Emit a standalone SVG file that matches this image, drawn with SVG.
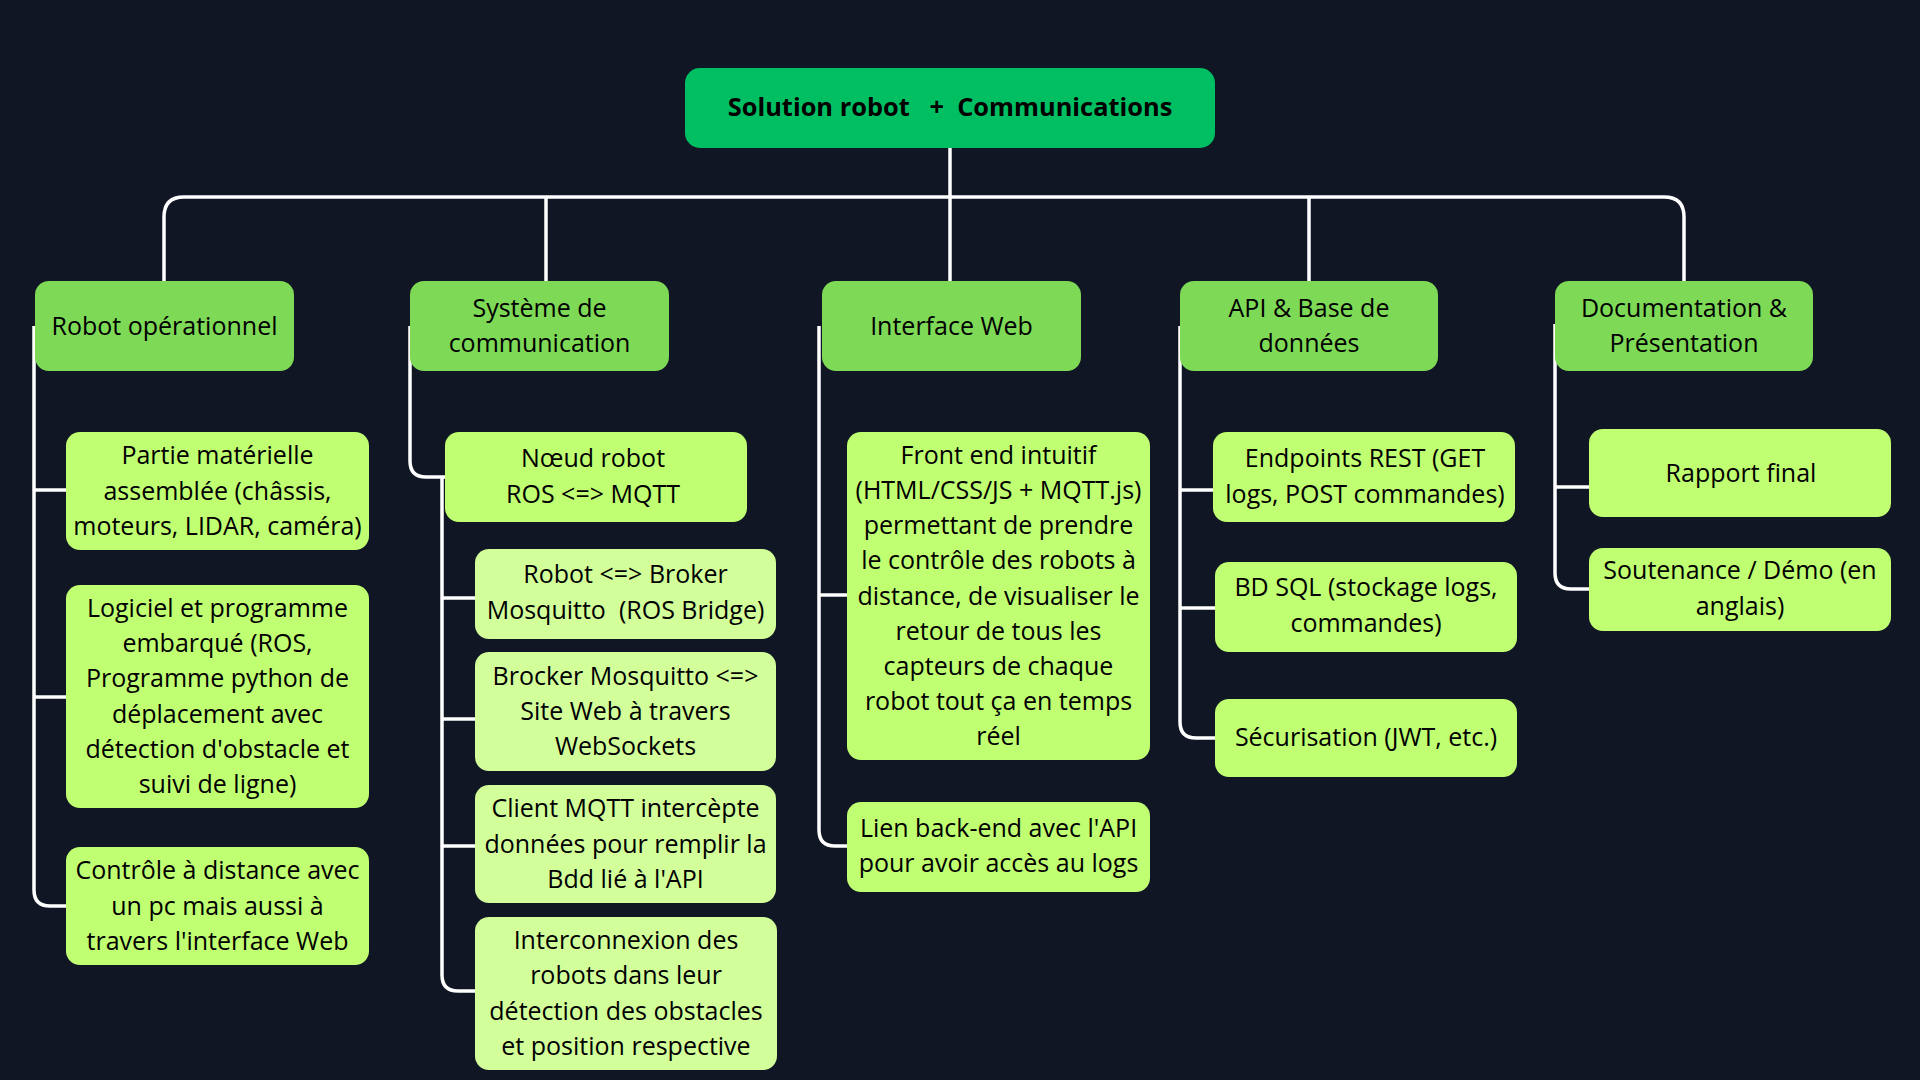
<svg xmlns="http://www.w3.org/2000/svg" width="1920" height="1080" viewBox="0 0 1920 1080">
<style>
.bg{fill:#101624}
.root{fill:#00BF63}
.l1{fill:#7ED957}
.l2{fill:#C1FF72}
.l3{fill:#D3FF9B}
text{font-family:"Open Sans","Noto Sans","DejaVu Sans",sans-serif;font-size:25px;fill:#000;text-anchor:middle;white-space:pre}
.rt{font-weight:700;font-size:25.4px}
.c path{fill:none;stroke:#fff;stroke-width:3.5;stroke-linecap:butt}
</style>
<rect class="bg" x="0" y="0" width="1920" height="1080"/>
<g class="c" id="connectors">
<path d="M950,148 V281"/>
<path d="M164,281 V217 Q164,197 184,197 H1664 Q1684,197 1684,217 V281"/>
<path d="M546,197 V281"/>
<path d="M1309,197 V281"/>
<path d="M34,326 V890 Q34,906 50,906 H66"/>
<path d="M34,490 H66"/>
<path d="M34,697 H66"/>
<path d="M410,326 V461 Q410,477 426,477 H445"/>
<path d="M442,477 V975 Q442,991 458,991 H475"/>
<path d="M442,598 H475"/>
<path d="M442,719 H475"/>
<path d="M442,846 H475"/>
<path d="M819,326 V830 Q819,846 835,846 H847"/>
<path d="M819,595 H847"/>
<path d="M1180,326 V722 Q1180,738 1196,738 H1215"/>
<path d="M1180,490 H1213"/>
<path d="M1180,608 H1215"/>
<path d="M1555,324 V573 Q1555,589 1571,589 H1589"/>
<path d="M1555,487 H1589"/>
</g>
<g id="root">
<rect class="root" x="685" y="68" width="530" height="80" rx="15"/>
<text class="rt" x="950" y="116">Solution robot   +  Communications</text>
</g>
<g id="n-robot">
<rect class="l1" x="35" y="281" width="259" height="90" rx="14"/>
<text x="164.5" y="334.5">Robot opérationnel</text>
</g>
<g id="n-comm">
<rect class="l1" x="410" y="281" width="259" height="90" rx="14"/>
<text x="539.5" y="316.9">Système de</text>
<text x="539.5" y="352.1">communication</text>
</g>
<g id="n-web">
<rect class="l1" x="822" y="281" width="259" height="90" rx="14"/>
<text x="951.5" y="334.5">Interface Web</text>
</g>
<g id="n-api">
<rect class="l1" x="1180" y="281" width="258" height="90" rx="14"/>
<text x="1309" y="316.9">API &amp; Base de</text>
<text x="1309" y="352.1">données</text>
</g>
<g id="n-doc">
<rect class="l1" x="1555" y="281" width="258" height="90" rx="14"/>
<text x="1684" y="316.9">Documentation &amp;</text>
<text x="1684" y="352.1">Présentation</text>
</g>
<g id="n-partie">
<rect class="l2" x="66" y="432" width="303" height="118" rx="14"/>
<text x="217.5" y="464.3">Partie matérielle</text>
<text x="217.5" y="499.5">assemblée (châssis,</text>
<text x="217.5" y="534.7">moteurs, LIDAR, caméra)</text>
</g>
<g id="n-logiciel">
<rect class="l2" x="66" y="585" width="303" height="223" rx="14"/>
<text x="217.5" y="617">Logiciel et programme</text>
<text x="217.5" y="652.2">embarqué (ROS,</text>
<text x="217.5" y="687.4">Programme python de</text>
<text x="217.5" y="722.6">déplacement avec</text>
<text x="217.5" y="757.8">détection d'obstacle et</text>
<text x="217.5" y="793">suivi de ligne)</text>
</g>
<g id="n-controle">
<rect class="l2" x="66" y="847" width="303" height="118" rx="14"/>
<text x="217.5" y="879.3">Contrôle à distance avec</text>
<text x="217.5" y="914.5">un pc mais aussi à</text>
<text x="217.5" y="949.7">travers l'interface Web</text>
</g>
<g id="n-noeud">
<rect class="l2" x="445" y="432" width="302" height="90" rx="14"/>
<text x="593" y="467.4">Nœud robot</text>
<text x="593" y="502.6">ROS &lt;=&gt; MQTT</text>
</g>
<g id="n-broker">
<rect class="l3" x="475" y="549" width="301" height="90" rx="14"/>
<text x="625.5" y="583.4">Robot &lt;=&gt; Broker</text>
<text x="625.5" y="618.6">Mosquitto  (ROS Bridge)</text>
</g>
<g id="n-ws">
<rect class="l3" x="475" y="652" width="301" height="119" rx="14"/>
<text x="625.5" y="684.8">Brocker Mosquitto &lt;=&gt;</text>
<text x="625.5" y="720">Site Web à travers</text>
<text x="625.5" y="755.2">WebSockets</text>
</g>
<g id="n-client">
<rect class="l3" x="475" y="785" width="301" height="118" rx="14"/>
<text x="625.5" y="817.3">Client MQTT intercèpte</text>
<text x="625.5" y="852.5">données pour remplir la</text>
<text x="625.5" y="887.7">Bdd lié à l'API</text>
</g>
<g id="n-inter">
<rect class="l3" x="475" y="917" width="302" height="153" rx="14"/>
<text x="626" y="949.2">Interconnexion des</text>
<text x="626" y="984.4">robots dans leur</text>
<text x="626" y="1019.6">détection des obstacles</text>
<text x="626" y="1054.8">et position respective</text>
</g>
<g id="n-front">
<rect class="l2" x="847" y="432" width="303" height="328" rx="14"/>
<text x="998.5" y="463.7">Front end intuitif</text>
<text x="998.5" y="498.9">(HTML/CSS/JS + MQTT.js)</text>
<text x="998.5" y="534.1">permettant de prendre</text>
<text x="998.5" y="569.3">le contrôle des robots à</text>
<text x="998.5" y="604.5">distance, de visualiser le</text>
<text x="998.5" y="639.7">retour de tous les</text>
<text x="998.5" y="674.9">capteurs de chaque</text>
<text x="998.5" y="710.1">robot tout ça en temps</text>
<text x="998.5" y="745.3">réel</text>
</g>
<g id="n-lien">
<rect class="l2" x="847" y="802" width="303" height="90" rx="14"/>
<text x="998.5" y="837.1">Lien back-end avec l'API</text>
<text x="998.5" y="872.3">pour avoir accès au logs</text>
</g>
<g id="n-endpoints">
<rect class="l2" x="1213" y="432" width="302" height="90" rx="14"/>
<text x="1365" y="467.4">Endpoints REST (GET</text>
<text x="1365" y="502.6">logs, POST commandes)</text>
</g>
<g id="n-bdsql">
<rect class="l2" x="1215" y="562" width="302" height="90" rx="14"/>
<text x="1366" y="596.4">BD SQL (stockage logs,</text>
<text x="1366" y="631.6">commandes)</text>
</g>
<g id="n-secu">
<rect class="l2" x="1215" y="699" width="302" height="78" rx="14"/>
<text x="1366" y="746">Sécurisation (JWT, etc.)</text>
</g>
<g id="n-rapport">
<rect class="l2" x="1589" y="429" width="302" height="88" rx="14"/>
<text x="1741" y="481.5">Rapport final</text>
</g>
<g id="n-soutenance">
<rect class="l2" x="1589" y="548" width="302" height="83" rx="14"/>
<text x="1740" y="579.4">Soutenance / Démo (en</text>
<text x="1740" y="614.6">anglais)</text>
</g>
</svg>
